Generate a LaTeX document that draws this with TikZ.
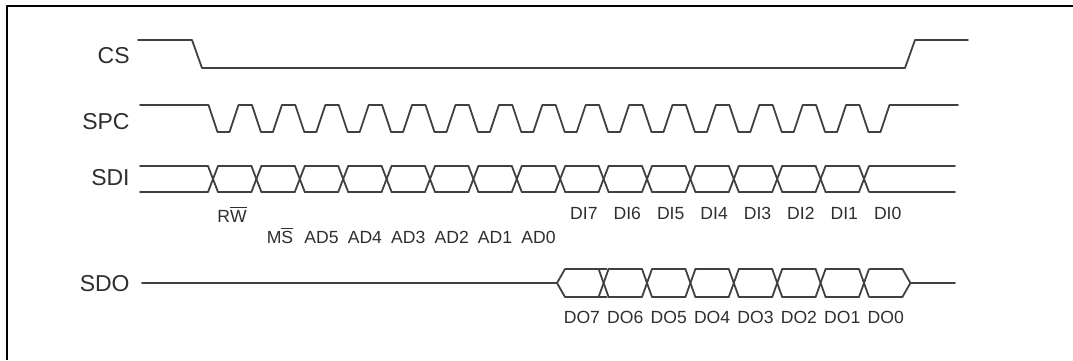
\documentclass[tikz,border=0pt]{standalone}
\usepackage{fontspec}
\setmainfont{Liberation Sans}
\usepackage{tikz}
\usetikzlibrary{arrows}
\definecolor{wwwwww}{rgb}{0.25,0.25,0.25}
\definecolor{tttttt}{rgb}{0.18,0.18,0.18}
\newcommand{\nbar}[1]{$\overline{\mbox{#1}}$}
\begin{document}
\begin{tikzpicture}[line cap=round,line join=round,x=0.5pt,y=-0.5pt,
  wave/.style={line width=0.9pt,color=wwwwww},
  signame/.style={anchor=east,inner sep=0pt,color=tttttt,font=\fontsize{11.5}{13}\selectfont},
  bitname/.style={anchor=base,inner sep=0pt,color=tttttt,font=\fontsize{8.8}{10}\selectfont}]
\useasboundingbox (0,0) rectangle (1073,360);
\draw [line width=1pt,line cap=butt] (7,360) -- (7,6) -- (1073,6);
% signal names
\node [signame] (cs) at (130,56) {CS};
\node [signame] (spc) at (130,122) {SPC};
\node [signame] (sdi) at (130,178) {SDI};
\node [signame] (sdo) at (130,284) {SDO};
% CS
\draw [wave] (138,40) -- (192,40) -- (202,68) -- (905,68) -- (915,40) -- (968,40);
% SPC
\draw [wave] (140,105) \foreach \k [evaluate=\k as \c using 213+43.4*\k] in {0,...,15}
  { -- (\c-4.5,105) -- (\c+4.5,132) -- (\c+16.5,132) -- (\c+25.5,105) } -- (958,105);
% SDI
\draw [wave] (140,166) -- (208,166);
\draw [wave] (140,192) -- (208,192);
\foreach \k [evaluate=\k as \c using 213+43.4*\k] in {0,...,15}{
  \draw [wave] (\c-5,166) -- (\c+5,192);
  \draw [wave] (\c-5,192) -- (\c+5,166);
}
\foreach \k [evaluate=\k as \c using 213+43.4*\k] in {0,...,14}{
  \draw [wave] (\c+5,166) -- (\c+38.4,166);
  \draw [wave] (\c+5,192) -- (\c+38.4,192);
}
\draw [wave] (869.9,166) -- (955,166);
\draw [wave] (869.9,192) -- (955,192);
% SDO
\draw [wave] (142,283) -- (557,283) -- (565,269) -- (606.6,269);
\draw [wave] (557,283) -- (565,297) -- (606.6,297);
\foreach \k [evaluate=\k as \c using 213+43.4*\k] in {9,...,15}{
  \draw [wave] (\c-5,269) -- (\c+5,297);
  \draw [wave] (\c-5,297) -- (\c+5,269);
}
\foreach \k [evaluate=\k as \c using 213+43.4*\k] in {9,...,14}{
  \draw [wave] (\c+5,269) -- (\c+38.4,269);
  \draw [wave] (\c+5,297) -- (\c+38.4,297);
}
\draw [wave] (869.9,269) -- (902.4,269) -- (910.4,283) -- (955,283);
\draw [wave] (869.9,297) -- (902.4,297) -- (910.4,283);
% bit names
\node [bitname] (rw) at (232,222) {R\nbar{W}};
\node [bitname] (ms) at (280,243) {M\nbar{S}};
\foreach \k/\t in {2/AD5,3/AD4,4/AD3,5/AD2,6/AD1,7/AD0}
  \node [bitname] (ad\k) at ({234.7+43.4*\k},243) {\t};
\foreach \k/\t in {8/7,9/6,10/5,11/4,12/3,13/2,14/1,15/0}{
  \node [bitname] (di\k) at ({236.7+43.4*\k},219) {DI\t};
  \node [bitname] (do\k) at ({234.7+43.4*\k},323) {DO\t};
}
\end{tikzpicture}
\end{document}
